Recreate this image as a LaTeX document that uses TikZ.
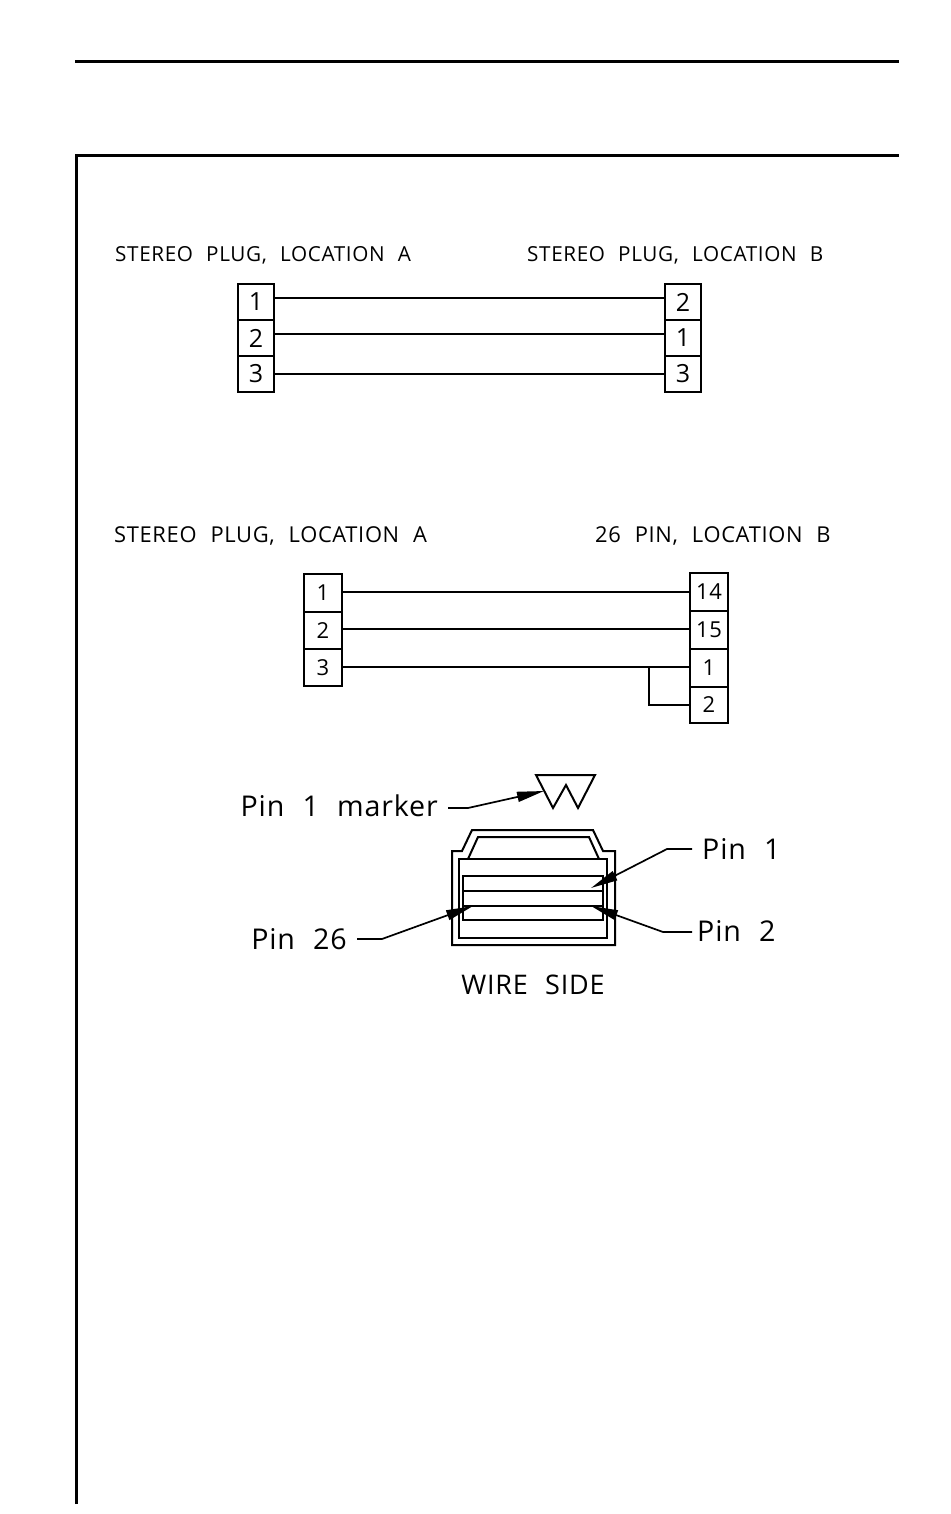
\documentclass[tikz,border=0pt]{standalone}
\usepackage{fontspec}
\setmainfont[WordSpace=2.2,LetterSpace=3]{Open Sans}
\usetikzlibrary{arrows.meta}
\tikzset{
    pinbox/.style={draw,line width=2pt,minimum width=36pt,minimum height=36pt,inner sep=0pt,font=\fontsize{25}{25}\selectfont},
    smallbox/.style={pinbox,minimum width=38pt,minimum height=37.5pt,font=\fontsize{22}{22}\selectfont},
    title/.style={inner sep=0pt,anchor=west,font=\fontsize{20.7}{20.7}\selectfont},
    widetitle/.style={title,font=\fontsize{21.9}{21.9}\selectfont},
    pinlabel/.style={inner sep=10pt,font=\fontsize{28.6}{28.6}\selectfont},
    wire/.style={line width=1.7pt},
    pointer/.style={line width=1.7pt,-{Triangle[length=27pt,width=10pt]}},
}
\begin{document}
\begin{tikzpicture}[x=1pt,y=-1pt]
    \useasboundingbox (0,0) rectangle (950,1514);
    \draw[line width=3pt] (75,62)--(899,62);
    \draw[line width=3pt] (76,1504)--(76,156)--(899,156);
    % <<< plug to plug
    \node[title] (titleA) at (115,255) {STEREO PLUG, LOCATION A};
    \node[title] (titleB) at (527,255) {STEREO PLUG, LOCATION B};
    \path
    (256,302) node[pinbox] (A1) {1}
    ++(0,36) node[pinbox] (A2) {2}
    ++(0,35.5) node[pinbox] (A3) {3}
    (683,302) node[pinbox] (B1) {2}
    ++(0,36) node[pinbox] (B2) {1}
    ++(0,35.5) node[pinbox] (B3) {3};
    \draw[wire] ([yshift=4pt]A1.east)--([yshift=4pt]B1.west);
    \draw[wire] ([yshift=4pt]A2.east)--([yshift=4pt]B2.west);
    \draw[wire] ([yshift=-.5pt]A3.east)--([yshift=-.5pt]B3.west);
    % <<< plug to 26 pin
    \node[widetitle] (titleC) at (114,536) {STEREO PLUG, LOCATION A};
    \node[widetitle] (titleD) at (595,536) {26 PIN, LOCATION B};
    \path
    (323,593) node[smallbox] (C1) {1}
    ++(0,37.5) node[smallbox] (C2) {2}
    ++(0,37) node[smallbox] (C3) {3}
    (709,592) node[smallbox] (D1) {14}
    ++(0,38) node[smallbox] (D2) {15}
    ++(0,38) node[smallbox] (D3) {1}
    ++(0,37) node[smallbox,minimum height=36pt] (D4) {2};
    \draw[wire] (C1.east|-D1.west)--(D1.west);
    \draw[wire] ([yshift=1pt]C2.east|-D2.west)--([yshift=1pt]D2.west);
    \draw[wire] ([yshift=1pt]C3.east|-D3.west)--([yshift=1pt]D3.west);
    \coordinate (jump) at (649,667);
    \draw[wire] (jump)|-(D4.west);
    % <<< connector
    \draw[line width=2pt] (536,775)--(595,775)--(578,808)--(566,785)--(553,808)--cycle;
    \draw[line width=2pt] (452,945)--(615,945)--(615,851)--(603,851)--(593,830)--(472,830)--(462,851)--(452,851)--cycle;
    \draw[line width=2pt] (459,859) rectangle (607,938);
    \draw[line width=2pt] (468,859)--(478,837)--(589,837)--(599,859);
    \draw[line width=2pt] (463,876) rectangle (603,920);
    \draw[line width=2pt] (463,891)--(603,891) (463,906)--(603,906);
    \node[pinlabel,anchor=east] (marker) at (448,806) {Pin 1 marker};
    \node[pinlabel,anchor=east] (pinA) at (357,939) {Pin 26};
    \node[pinlabel,anchor=west] (pinB) at (692,849) {Pin 1};
    \node[pinlabel,anchor=west] (pinC) at (687,931) {Pin 2};
    \node[title,font=\fontsize{27}{27}\selectfont,anchor=center] (wireside) at (533,985) {WIRE SIDE};
    \coordinate (markerTip) at (544,791);
    \coordinate (pinAtip) at (473,906);
    \coordinate (pinBtip) at (591,888);
    \coordinate (pinCtip) at (591,906);
    \draw[pointer] (marker.east)++(0,2)--++(20,0)--(markerTip);
    \draw[pointer] (pinA.east)--++(25,0)--(pinAtip);
    \draw[pointer] (pinB.west)--++(-25,0)--(pinBtip);
    \draw[pointer] (pinC.west)++(5,1)--++(-29,0)--(pinCtip);
\end{tikzpicture}
\end{document}
